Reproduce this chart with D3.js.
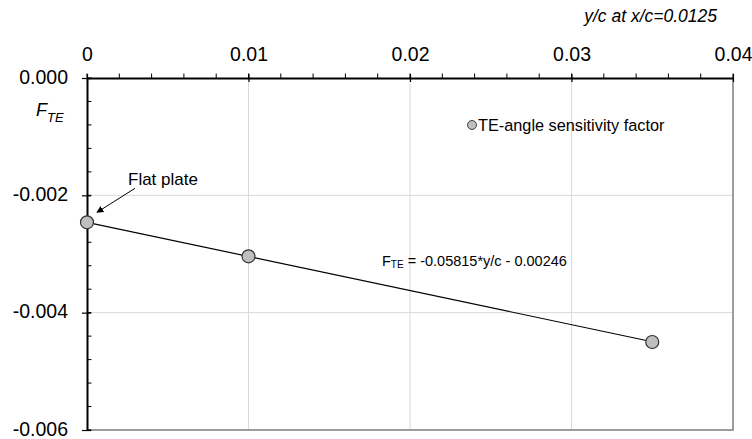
<!DOCTYPE html>
<html>
<head>
<meta charset="utf-8">
<script src="https://cdn.jsdelivr.net/npm/d3@7"></script>
<style>
  body { margin: 0; background: #fff; }
  text { font-family: "Liberation Sans", Arial, sans-serif; fill: #000; }
</style>
</head>
<body>
<div id="chart"></div>
<script>
var width = 752, height = 439;
var margin = { top: 78, right: 19, bottom: 9, left: 87 };

// data
var yc = [0, 0.01, 0.035];
var fte = [-0.00246, -0.00304, -0.0045];
var fitSlope = -0.05815;
var fitIntercept = -0.00246;
var xTicks = [0, 0.01, 0.02, 0.03, 0.04];
var xTickLabels = ["0", "0.01", "0.02", "0.03", "0.04"];
var yTicks = [0, -0.002, -0.004, -0.006];
var yTickLabels = ["0.000", "-0.002", "-0.004", "-0.006"];

var x = d3.scaleLinear().domain([0, 0.04]).range([margin.left, width - margin.right]);
var y = d3.scaleLinear().domain([-0.006, 0]).range([height - margin.bottom, margin.top]);

var svg = d3.select("#chart").append("svg")
    .attr("width", width)
    .attr("height", height);

svg.append("rect").attr("width", width).attr("height", height).attr("fill", "#fff");

// gridlines
svg.append("g").selectAll("line")
    .data(xTicks.slice(1, -1)).enter().append("line")
    .attr("x1", function (d) { return x(d); })
    .attr("x2", function (d) { return x(d); })
    .attr("y1", y(0)).attr("y2", y(-0.006))
    .attr("stroke", "#d9d9d9").attr("stroke-width", 1);
svg.append("g").selectAll("line")
    .data(yTicks.slice(1, -1)).enter().append("line")
    .attr("x1", x(0)).attr("x2", x(0.04))
    .attr("y1", function (d) { return y(d); })
    .attr("y2", function (d) { return y(d); })
    .attr("stroke", "#d9d9d9").attr("stroke-width", 1);

// right and bottom border
svg.append("path")
    .attr("d", "M" + x(0.04) + "," + y(0) + "V" + y(-0.006) + "H" + x(0))
    .attr("fill", "none").attr("stroke", "#7f7f7f").attr("stroke-width", 1.5);

// top axis (minor ticks above the line, majors cross it)
var minorX = d3.range(0, 0.0401, 0.002);
svg.append("g").selectAll("line")
    .data(minorX).enter().append("line")
    .attr("x1", function (d) { return x(d); })
    .attr("x2", function (d) { return x(d); })
    .attr("y1", y(0) - 4.5).attr("y2", y(0))
    .attr("stroke", "#000").attr("stroke-width", 1);

var xAxis = svg.append("g")
    .attr("transform", "translate(0," + y(0) + ")")
    .call(d3.axisTop(x).tickValues(xTicks)
        .tickFormat(function (d, i) { return xTickLabels[i]; })
        .tickSizeInner(4).tickSizeOuter(0).tickPadding(13));
xAxis.select(".domain").attr("stroke", "#000").attr("stroke-width", 2);
xAxis.selectAll(".tick line").attr("y1", 4).attr("stroke-width", 1.2);
xAxis.selectAll(".tick text").attr("font-size", "19.5px")
    .attr("font-family", "Liberation Sans, Arial, sans-serif").attr("fill", "#000");

// left axis (minor ticks inside, majors cross)
var minorY = d3.range(0, -0.00601, -0.0004);
svg.append("g").selectAll("line")
    .data(minorY).enter().append("line")
    .attr("x1", x(0)).attr("x2", x(0) + 4.5)
    .attr("y1", function (d) { return y(d); })
    .attr("y2", function (d) { return y(d); })
    .attr("stroke", "#000").attr("stroke-width", 1);

var yAxis = svg.append("g")
    .attr("transform", "translate(" + x(0) + ",0)")
    .call(d3.axisLeft(y).tickValues(yTicks)
        .tickFormat(function (d, i) { return yTickLabels[i]; })
        .tickSizeInner(5).tickSizeOuter(0).tickPadding(14));
yAxis.select(".domain").attr("stroke", "#000").attr("stroke-width", 2);
yAxis.selectAll(".tick line").attr("x1", 4).attr("stroke-width", 1.2);
yAxis.selectAll(".tick text").attr("font-size", "19.5px")
    .attr("dy", "0.26em")
    .attr("font-family", "Liberation Sans, Arial, sans-serif").attr("fill", "#000");

// axis titles
svg.append("text")
    .attr("x", 717).attr("y", 22)
    .attr("text-anchor", "end")
    .attr("font-size", "17.5px").attr("font-style", "italic")
    .text("y/c at x/c=0.0125");

var fLabel = svg.append("text")
    .attr("x", 36).attr("y", 116)
    .attr("font-size", "18px").attr("font-style", "italic");
fLabel.append("tspan").text("F");
fLabel.append("tspan").attr("font-size", "13px").attr("dy", 6).text("TE");

// trend line
var fit = [0, yc[yc.length - 1]].map(function (v) {
    return { x: v, y: fitSlope * v + fitIntercept };
});
var lineFunction = d3.line()
    .x(function (d) { return x(d.x); })
    .y(function (d) { return y(d.y); });
svg.append("path")
    .attr("d", lineFunction(fit))
    .attr("fill", "none").attr("stroke", "#000").attr("stroke-width", 1.2);

// points
svg.append("g").selectAll("circle")
    .data(yc).enter().append("circle")
    .attr("cx", function (d) { return x(d); })
    .attr("cy", function (d, i) { return y(fte[i]); })
    .attr("r", 6.5)
    .attr("fill", "#bfbfbf").attr("stroke", "#333").attr("stroke-width", 1.2);

// equation
var eq = svg.append("text")
    .attr("x", 382).attr("y", 266)
    .attr("font-size", "14.5px");
eq.append("tspan").text("F");
eq.append("tspan").attr("font-size", "10px").attr("dy", 2).text("TE");
eq.append("tspan").attr("dy", -2).text(" = -0.05815*y/c - 0.00246");

// legend
svg.append("circle")
    .attr("cx", 472).attr("cy", 125).attr("r", 4.5)
    .attr("fill", "#bfbfbf").attr("stroke", "#404040").attr("stroke-width", 1);
svg.append("text")
    .attr("x", 478).attr("y", 130.5)
    .attr("font-size", "16.3px")
    .text("TE-angle sensitivity factor");

// "Flat plate" annotation
svg.append("defs").append("marker")
    .attr("id", "arrow")
    .attr("viewBox", "0 0 10 10")
    .attr("refX", 9).attr("refY", 5)
    .attr("markerWidth", 7).attr("markerHeight", 7)
    .attr("orient", "auto")
    .append("path").attr("d", "M0,0L10,5L0,10z").attr("fill", "#000");

var px = x(yc[0]), py = y(fte[0]);
svg.append("line")
    .attr("x1", px + 48).attr("y1", py - 34)
    .attr("x2", px + 10).attr("y2", py - 10)
    .attr("stroke", "#000").attr("stroke-width", 1)
    .attr("marker-end", "url(#arrow)");
svg.append("text")
    .attr("x", px + 41).attr("y", py - 37.5)
    .attr("font-family", "Carlito, Lato, 'Open Sans', sans-serif")
    .attr("font-size", "17px")
    .text("Flat plate");
</script>
</body>
</html>
